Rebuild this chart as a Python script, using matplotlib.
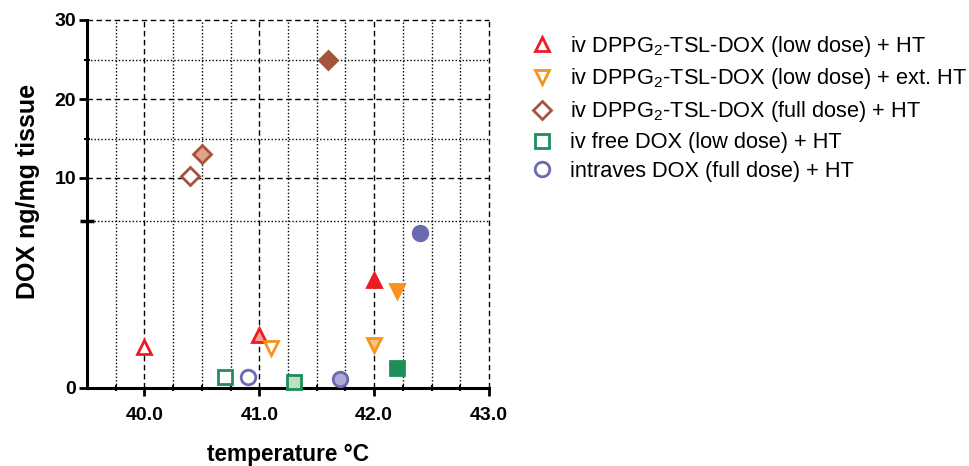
import numpy as np
import matplotlib
matplotlib.use("Agg")
import matplotlib.pyplot as plt
from matplotlib.ticker import FixedLocator, NullFormatter

plt.rcParams["font.family"] = ["Liberation Sans", "DejaVu Sans"]
plt.rcParams["mathtext.fontset"] = "custom"
plt.rcParams["mathtext.rm"] = "Liberation Sans"
plt.rcParams["mathtext.it"] = "Liberation Sans:italic"

# data (each group: open, light, solid marker)
dppg_low_x = [40.0, 41.0, 42.0]
dppg_low_y = [1.24, 1.59, 3.23]
dppg_ext_x = [41.1, 42.0, 42.2]
dppg_ext_y = [1.19, 1.29, 2.90]
dppg_full_x = [40.4, 40.5, 41.6]
dppg_full_y = [10.2, 13.0, 25.0]
free_x = [40.7, 41.3, 42.2]
free_y = [0.34, 0.19, 0.59]
intraves_x = [40.9, 41.7, 42.4]
intraves_y = [0.34, 0.27, 4.65]

labels = [
    "iv DPPG$_2$-TSL-DOX (low dose) + HT",
    "iv DPPG$_2$-TSL-DOX (low dose) + ext. HT",
    "iv DPPG$_2$-TSL-DOX (full dose) + HT",
    "iv free DOX (low dose) + HT",
    "intraves DOX (full dose) + HT",
]

groups = [
    (dppg_low_x, dppg_low_y, "^", "#ED1C24", "#F4A38E", 10.5),
    (dppg_ext_x, dppg_ext_y, "v", "#F7931E", "#FBC28C", 10.5),
    (dppg_full_x, dppg_full_y, "D", "#A3553B", "#E2A489", 9),
    (free_x, free_y, "s", "#1E8E5A", "#BDE0BF", 10),
    (intraves_x, intraves_y, "o", "#6B69B0", "#ADAAD6", 10.5),
]

# segmented y axis (0-5 stretched, 5-30 compressed)
knots_data = [0, 5, 10, 30]
knots_pix = [0, 167, 210, 368]


def fwd(v):
    return np.interp(v, knots_data, knots_pix, left=-1, right=400)


def inv(p):
    return np.interp(p, knots_pix, knots_data)


fig = plt.figure(figsize=(9.69, 4.66), dpi=100)
ax = fig.add_axes([87 / 969, 78 / 466, 402 / 969, 368 / 466])
ax.set_yscale("function", functions=(fwd, inv))
ax.set_xlim(39.5, 43.0)
ax.set_ylim(0, 30)

handles = []
for (xs, ys, m, col, light, ms) in groups:
    fills = ["white", light, col]
    for x, y, fc in zip(xs, ys, fills):
        h, = ax.plot([x], [y], marker=m, ms=ms, mfc=fc, mec=col, mew=2,
                     ls="none", zorder=5, clip_on=False)
        if fc == "white":
            handles.append(h)

# grid
ax.xaxis.set_major_locator(FixedLocator([40, 41, 42, 43]))
ax.xaxis.set_minor_locator(FixedLocator(np.arange(39.75, 43, 0.25)))
ax.yaxis.set_major_locator(FixedLocator([0, 10, 20, 30]))
ax.yaxis.set_minor_locator(FixedLocator([15, 25]))
for v in [40, 41, 42, 43]:
    ax.axvline(v, color="black", ls=(0, (4, 2.5)), lw=1.0, zorder=1, clip_on=False)
for v in np.arange(39.75, 43, 0.25):
    if v % 1 != 0:
        ax.axvline(v, color="black", ls=(0, (1, 1.5)), lw=1.0, zorder=1)
for v in [10, 20, 30]:
    ax.axhline(v, color="black", ls=(0, (4, 2.5)), lw=1.0, zorder=1, clip_on=False)
for v in [5, 15, 25]:
    ax.axhline(v, color="black", ls=(0, (1, 1.5)), lw=1.0, zorder=1)

ax.set_xticklabels(["40.0", "41.0", "42.0", "43.0"])
ax.set_yticklabels(["0", "10", "20", "30"])
ax.yaxis.set_minor_formatter(NullFormatter())
ax.tick_params(axis="both", which="major", length=6, width=2, labelsize=14,
               direction="out")
ax.tick_params(axis="x", which="major", pad=8)
ax.tick_params(axis="y", which="major", pad=2)
ax.tick_params(axis="both", which="minor", length=4, width=1.5, direction="inout")
ax.plot([39.5], [5], marker="_", ms=10, mew=2.5, color="black", clip_on=False, zorder=6)
for lab in ax.get_xticklabels() + ax.get_yticklabels():
    lab.set_fontweight("bold")

for s in ["top", "right"]:
    ax.spines[s].set_visible(False)
for s in ["left", "bottom"]:
    ax.spines[s].set_linewidth(2.2)

ax.set_xlabel("temperature °C", fontsize=16.3, fontweight="bold")
ax.set_ylabel("DOX ng/mg tissue", fontsize=18, fontweight="bold")
ax.xaxis.set_label_coords(0.5, -0.15)
ax.yaxis.set_label_coords(-0.118, 0.535)

fig.legend(handles, labels, loc="upper left", bbox_to_anchor=(509 / 969, 452 / 466),
           frameon=False, fontsize=15.7, handletextpad=0.72, labelspacing=0.36,
           handlelength=1.2)

fig.savefig("out.png", dpi=100)
